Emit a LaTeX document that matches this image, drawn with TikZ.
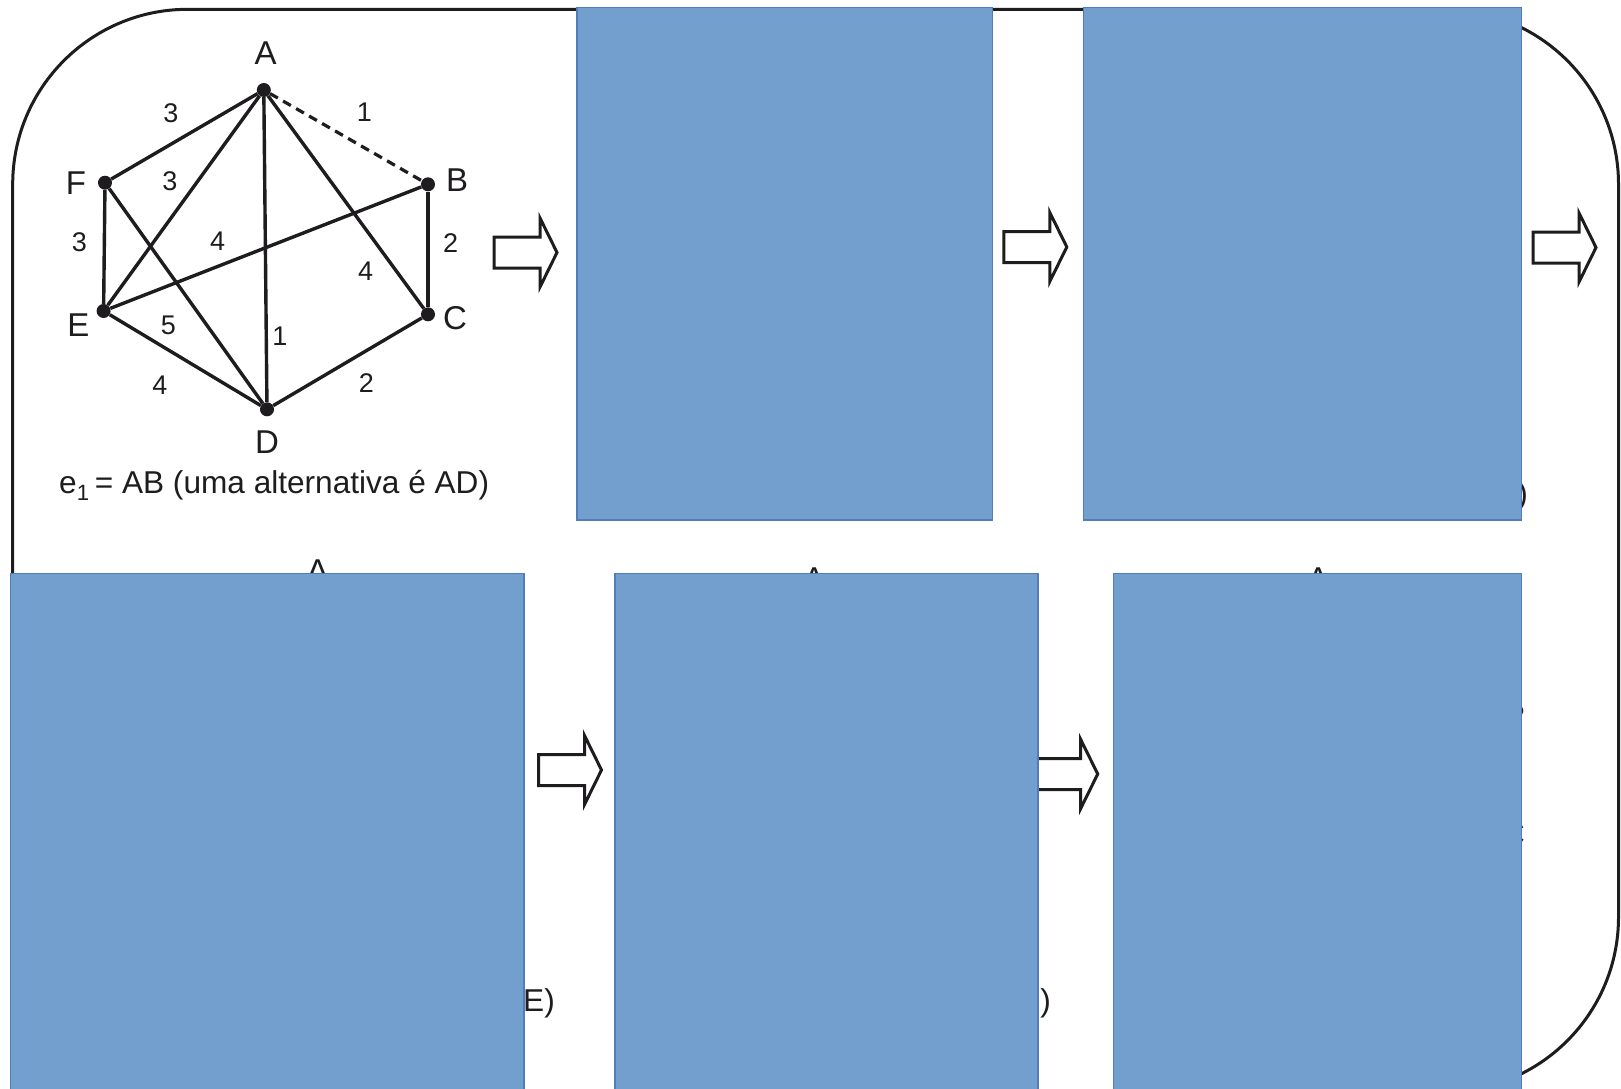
\documentclass[tikz,border=0pt]{standalone}
\usepackage{fontspec}
\setmainfont{Liberation Sans}
\definecolor{panelblue}{RGB}{115,159,207}
\definecolor{paneledge}{RGB}{80,126,186}
\definecolor{ink}{RGB}{30,28,30}
\begin{document}
\begin{tikzpicture}[x=1pt,y=-1pt,
  edge/.style={line width=3.4pt, draw=ink},
  dashedge/.style={line width=3.2pt, draw=ink, dash pattern=on 9pt off 6pt},
  vdot/.style={circle, fill=ink, inner sep=0pt, minimum size=14pt},
  vlab/.style={font=\fontsize{33}{36}\selectfont, inner sep=0pt, text=ink},
  elab/.style={font=\fontsize{27}{30}\selectfont, inner sep=0pt, text=ink},
  captext/.style={font=\fontsize{31.6}{36}\selectfont, inner sep=0pt, text=ink},
  frameline/.style={line width=3pt, draw=ink, rounded corners=175pt},
  hollow/.style={line width=3pt, draw=ink, fill=white, line join=miter},
  panel/.style={fill=panelblue, draw=paneledge, line width=1.2pt},
  blockarrow/.pic={\draw[hollow] (0,-15.5) -- (46,-15.5) -- (46,-34.5) -- (63,0) -- (46,34.5) -- (46,15.5) -- (0,15.5) -- cycle;}
]
\useasboundingbox (0,0) rectangle (1621,1088);
\clip (0,0) rectangle (1621,1088);
\fill[white] (0,0) rectangle (1621,1088);

% outer rounded frame
\draw[frameline] (12.7,9.3) rectangle (1618.5,1092);

% graph vertices
\node[vdot] (A) at (263.8,90) {};
\node[vdot] (B) at (428,184.3) {};
\node[vdot] (C) at (428,314.3) {};
\node[vdot] (D) at (267,409.3) {};
\node[vdot] (E) at (103.6,311) {};
\node[vdot] (F) at (105,182.7) {};

% edges
\draw[dashedge] (A) -- (B);
\draw[edge] (A) -- (F);
\draw[edge] (A) -- (E);
\draw[edge] (A) -- (D);
\draw[edge] (A) -- (C);
\draw[edge] (F) -- (E);
\draw[edge] (F) -- (D);
\draw[edge] (E) -- (B);
\draw[edge] (E) -- (D);
\draw[edge] (B) -- (C);
\draw[edge] (C) -- (D);

% vertex labels
\node[vlab] (lA) at (265.7,53.3) {A};
\node[vlab] (lB) at (457,180) {B};
\node[vlab] (lC) at (455,318.3) {C};
\node[vlab] (lD) at (267,441.7) {D};
\node[vlab] (lE) at (78.4,325) {E};
\node[vlab] (lF) at (75.9,183.3) {F};

% edge weights
\node[elab] (wAF) at (171,112.7) {3};
\node[elab] (wAB) at (364.5,112.7) {1};
\node[elab] (wAE) at (170,181) {3};
\node[elab] (wFE) at (79.5,241.7) {3};
\node[elab] (wEB) at (217.6,241.7) {4};
\node[elab] (wBC) at (450.7,243.3) {2};
\node[elab] (wAC) at (365.6,271.7) {4};
\node[elab] (wFD) at (168.4,325) {5};
\node[elab] (wAD) at (280,336.7) {1};
\node[elab] (wED) at (160,385) {4};
\node[elab] (wCD) at (366.3,383.3) {2};

% caption
\node[captext, anchor=base west] (cap1) at (59,493.5) {e\textsubscript{1}\,= AB (uma alternativa é AD)};

% hollow arrows
\pic (arr1) at (494,252.5) {blockarrow};
\pic (arr2) at (1003.8,247) {blockarrow};
\pic (arr3) at (1533,247.5) {blockarrow};
\pic (arr4) at (538.5,770) {blockarrow};
\pic (arr5) at (1034.7,774) {blockarrow};

% text fragments partly hidden by the panels
\node[captext, anchor=east] (frag1) at (1528,496) {)};
\node[captext, anchor=west] (frag2) at (523,1003) {E)};
\node[captext, anchor=east] (frag3) at (1051,1003) {F)};
\node[vlab] (fragA1) at (317.7,571.5) {A};
\node[vlab] (fragA2) at (814,579) {A};
\node[vlab] (fragA3) at (1318,579) {A};
\node[vlab] (fragB) at (1514,706) {B};
\node[vlab] (fragC) at (1513,834) {C};

% blue panels
\draw[panel] (577,7.2) rectangle (992.4,520);
\draw[panel] (1083.4,7.2) rectangle (1521.8,520);
\draw[panel] (10.3,573.8) rectangle (524,1092);
\draw[panel] (615,573.8) rectangle (1038,1092);
\draw[panel] (1113.4,573.8) rectangle (1521.8,1092);
\end{tikzpicture}
\end{document}
